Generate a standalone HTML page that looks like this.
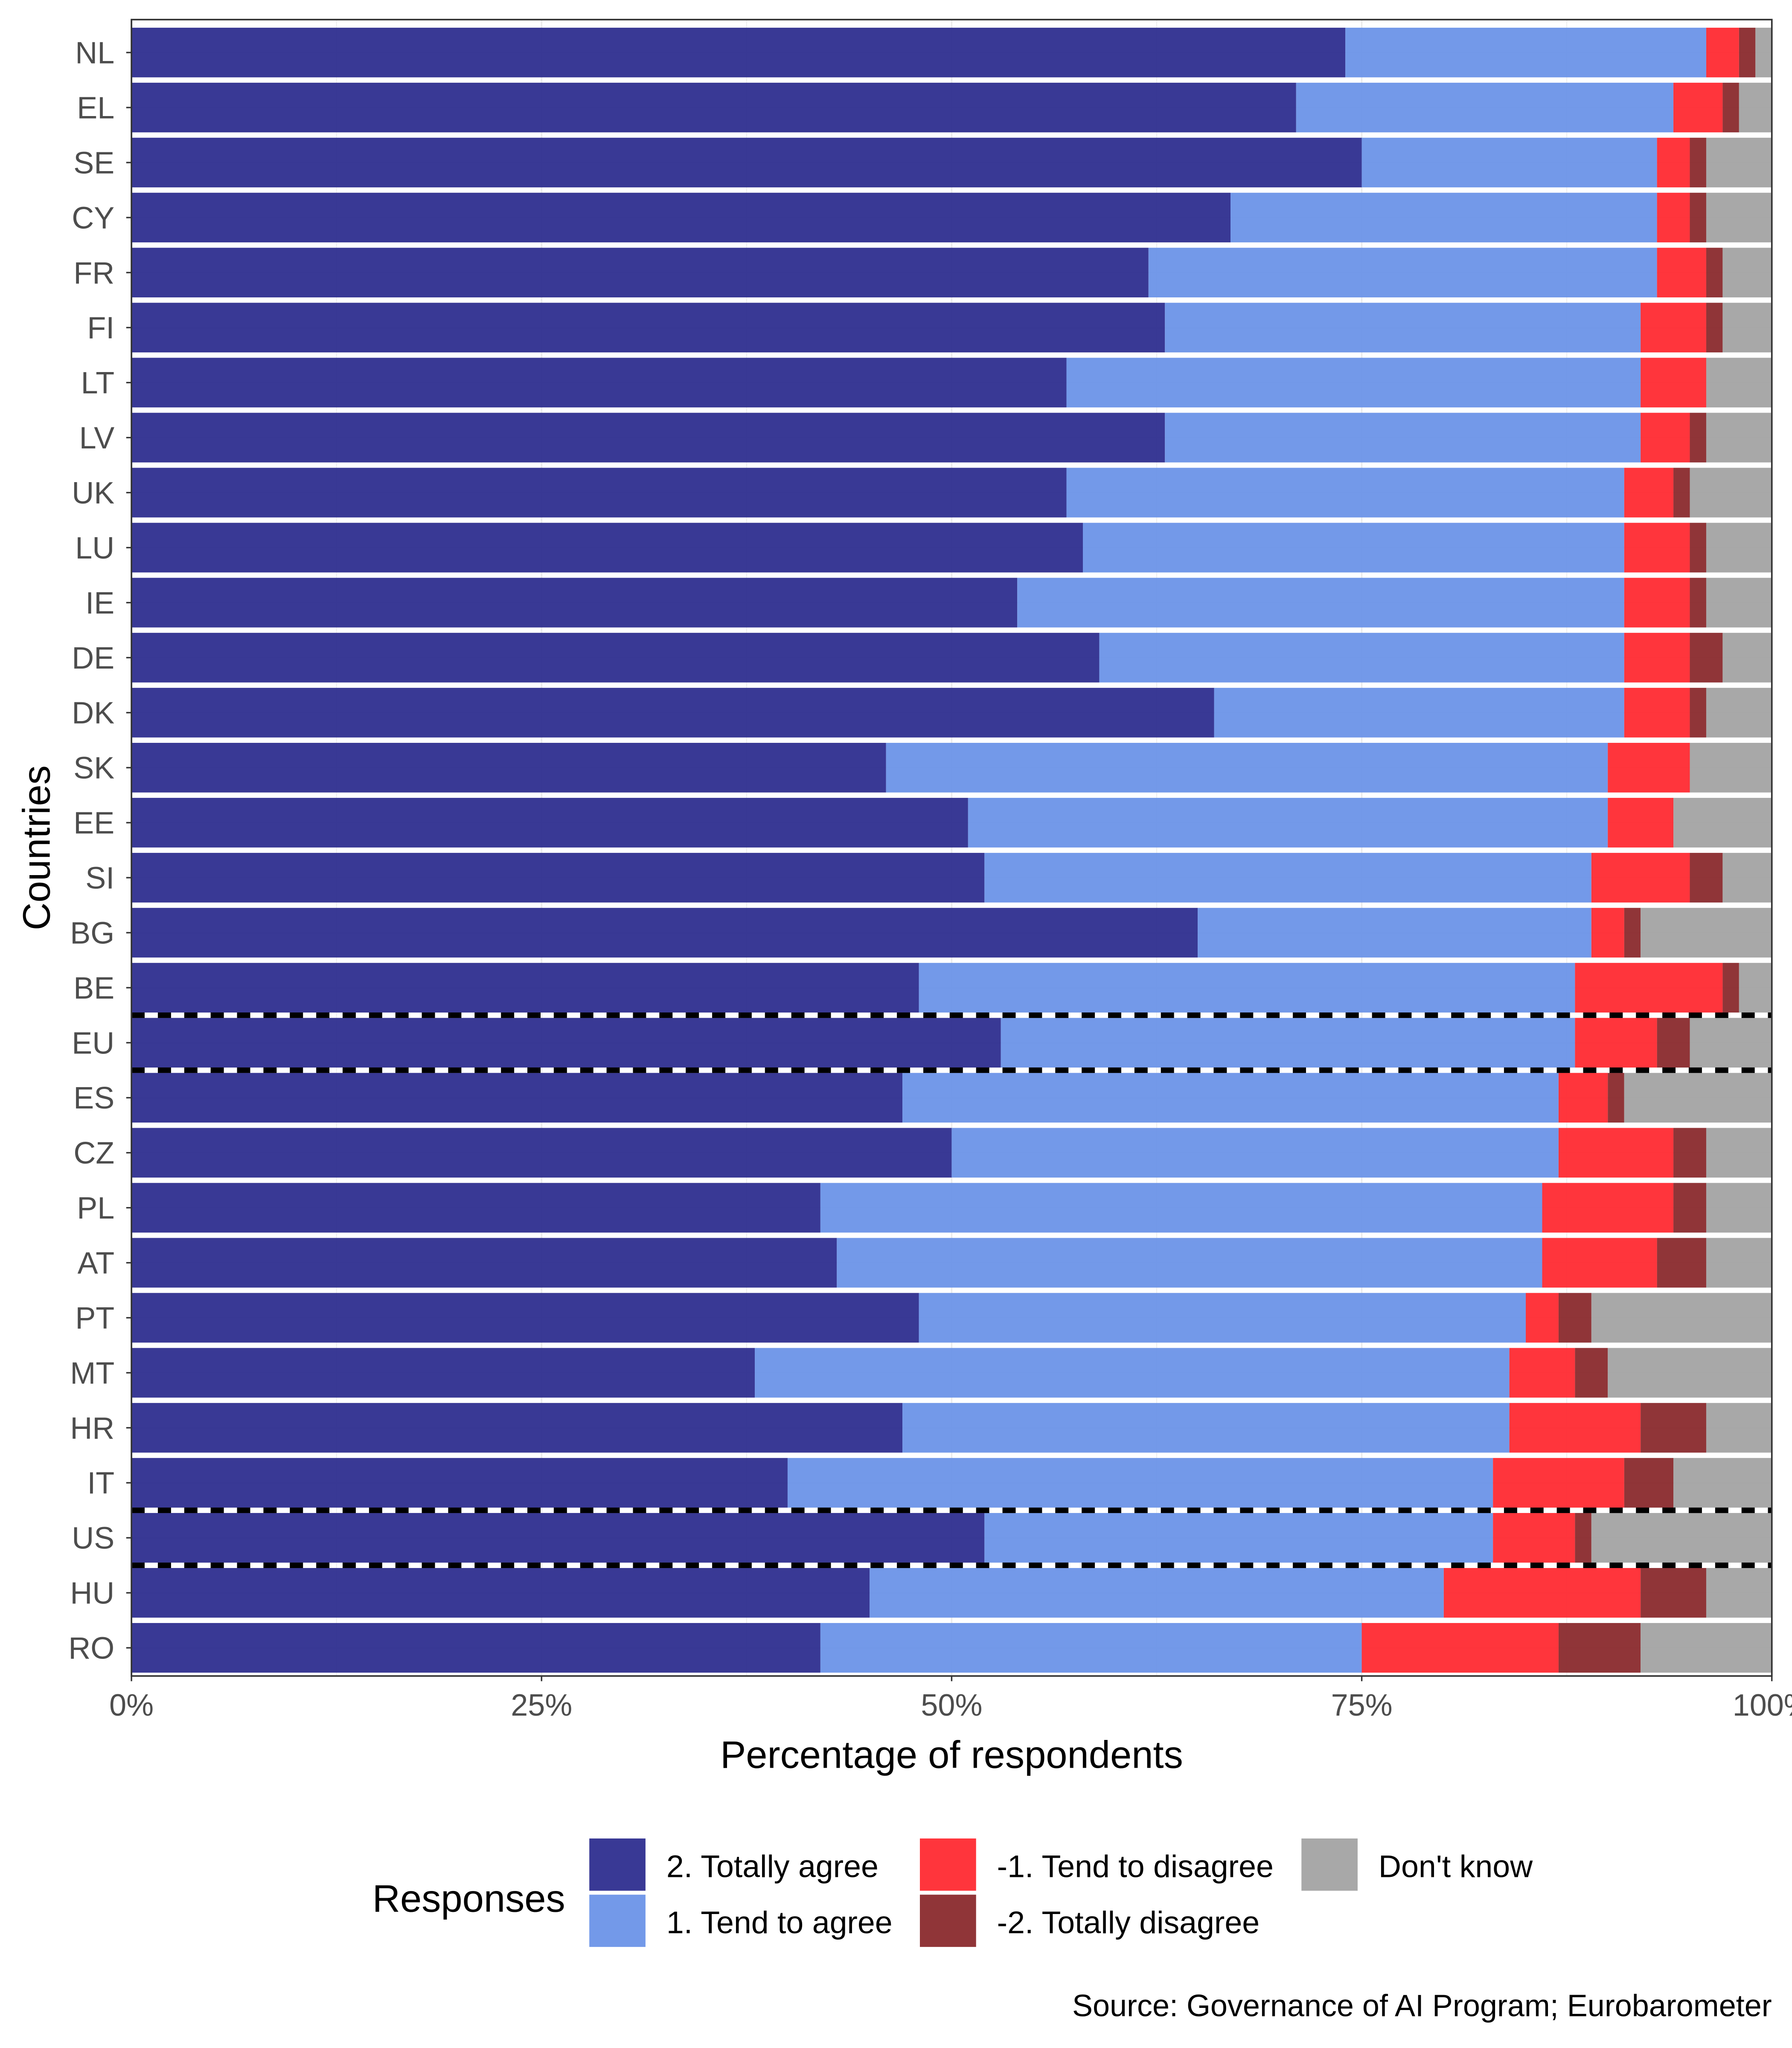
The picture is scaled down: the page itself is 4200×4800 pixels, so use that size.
<!DOCTYPE html>
<html><head><meta charset="utf-8">
<style>
html,body{margin:0;padding:0;background:#fff;}
svg{display:block;}
text{font-family:"Liberation Sans",Arial,sans-serif;}
</style></head>
<body>
<svg id="chart" width="4200" height="4800" viewBox="0 0 1371.43 1567.35" xmlns="http://www.w3.org/2000/svg">
<g id="plot"></g>
</svg>
<script>
const countries = ["NL","EL","SE","CY","FR","FI","LT","LV","UK","LU","IE","DE","DK","SK","EE","SI","BG","BE","EU","ES","CZ","PL","AT","PT","MT","HR","IT","US","HU","RO"];
const totallyAgree = [74,71,75,67,62,63,57,63,57,58,54,59,66,46,51,52,65,48,53,47,50,42,43,48,38,47,40,52,45,42];
const tendAgree    = [22,23,18,26,31,29,35,29,34,33,37,32,25,44,39,37,24,40,35,40,37,44,43,37,46,37,43,31,35,33];
const tendDisagree = [2,3,2,2,3,4,4,3,3,4,4,4,4,5,4,6,2,9,5,3,7,8,7,2,4,8,8,5,12,12];
const totallyDisagree = [1,1,1,1,1,1,0,1,1,1,1,2,1,0,0,2,1,1,2,1,2,2,3,2,2,4,3,1,4,5];
const dontKnow     = [1,2,4,4,3,3,4,4,5,4,4,3,4,5,6,3,8,2,5,9,4,4,4,11,10,4,6,11,4,8];
const xTicks = [0,25,50,75,100];
const dashedAfter = ["BE","EU","IT","US"];

const NS="http://www.w3.org/2000/svg";
const g=document.getElementById('plot');
const L=100.6, R=1356, T=15, step=42.1, firstC=40.2, barH=38;
const B=firstC+(countries.length-1)*step+step/2+0.5;
const xs=v=>L+(R-L)*v/100;
const yc=i=>firstC+i*step;
function el(tag,attrs,parent){const e=document.createElementNS(NS,tag);for(const k in attrs)e.setAttribute(k,attrs[k]);(parent||g).appendChild(e);return e;}

[0,12.5,25,37.5,50,62.5,75,87.5,100].forEach(v=>{
  const l=el('line',{x1:xs(v),x2:xs(v),y1:T,y2:B,stroke:'#ebebeb','stroke-width':v%25===0?1.1:0.55});
  
  
});
countries.forEach((c,i)=>{
  const l=el('line',{x1:L,x2:R,y1:yc(i),y2:yc(i),stroke:'#ebebeb','stroke-width':1.1});
  
  
});

const series=[
  {name:'totally-agree',vals:totallyAgree,color:'#2E2E8F'},
  {name:'tend-to-agree',vals:tendAgree,color:'#6B93E8'},
  {name:'tend-to-disagree',vals:tendDisagree,color:'#FF2A31'},
  {name:'totally-disagree',vals:totallyDisagree,color:'#8A2A2D'},
  {name:'dont-know',vals:dontKnow,color:'#A3A3A3'}
];
countries.forEach((c,i)=>{
  let cum=0;
  series.forEach(s=>{
    const v=s.vals[i];
    const r=el('rect',{x:xs(cum),y:yc(i)-barH/2,width:xs(cum+v)-xs(cum),height:barH,fill:s.color,'fill-opacity':0.95});
    
    
    cum+=v;
  });
  const t=el('text',{x:L-13,y:yc(i)+8.3,'text-anchor':'end','font-size':23.5,fill:'#4d4d4d'});
  t.textContent=c;
  
  
  const tk=el('line',{x1:L-4,x2:L,y1:yc(i),y2:yc(i),stroke:'#333','stroke-width':1.1});
  
  
});
dashedAfter.forEach(c=>{
  const i=countries.indexOf(c);
  const y=yc(i)+step/2;
  const d=el('line',{x1:L,x2:R,y1:y,y2:y,stroke:'#000','stroke-width':4.2,'stroke-dasharray':'10.1 10.1'});
  
  
});
const pb=el('rect',{x:L,y:T,width:R-L,height:B-T,fill:'none',stroke:'#333','stroke-width':1.2});


xTicks.forEach(v=>{
  const tk=el('line',{x1:xs(v),x2:xs(v),y1:B,y2:B+4,stroke:'#333','stroke-width':1.1});
  
  
  const t=el('text',{x:xs(v),y:1313,'text-anchor':'middle','font-size':23.5,fill:'#4d4d4d'});
  t.textContent=v+'%';
  
  
});
const xt=el('text',{x:(L+R)/2,y:1353,'text-anchor':'middle','font-size':29.5,fill:'#000'});
xt.textContent='Percentage of respondents';


const yt=el('text',{x:38,y:(T+B)/2,'text-anchor':'middle','font-size':29.5,fill:'#000',transform:'rotate(-90 38 '+((T+B)/2)+')'});
yt.textContent='Countries';



const lg=el('g',{});


const lt=el('text',{x:285,y:1463,'font-size':29.5,fill:'#000'},lg);
lt.textContent='Responses';


const entries=[
  {label:'2. Totally agree',color:'#2E2E8F',x:451,y:1407},
  {label:'1. Tend to agree',color:'#6B93E8',x:451,y:1450},
  {label:'-1. Tend to disagree',color:'#FF2A31',x:704,y:1407},
  {label:'-2. Totally disagree',color:'#8A2A2D',x:704,y:1450},
  {label:"Don't know",color:'#A3A3A3',x:996,y:1407}
];
entries.forEach(e=>{
  const k=el('rect',{x:e.x,y:e.y,width:43,height:40,fill:e.color,'fill-opacity':0.95},lg);
  
  
  const t=el('text',{x:e.x+59,y:e.y+29.5,'font-size':24,fill:'#000'},lg);
  t.textContent=e.label;
  
  
});
const cap=el('text',{x:1356,y:1543,'text-anchor':'end','font-size':23.5,fill:'#000'});
cap.textContent='Source: Governance of AI Program; Eurobarometer';


</script>
</body></html>
